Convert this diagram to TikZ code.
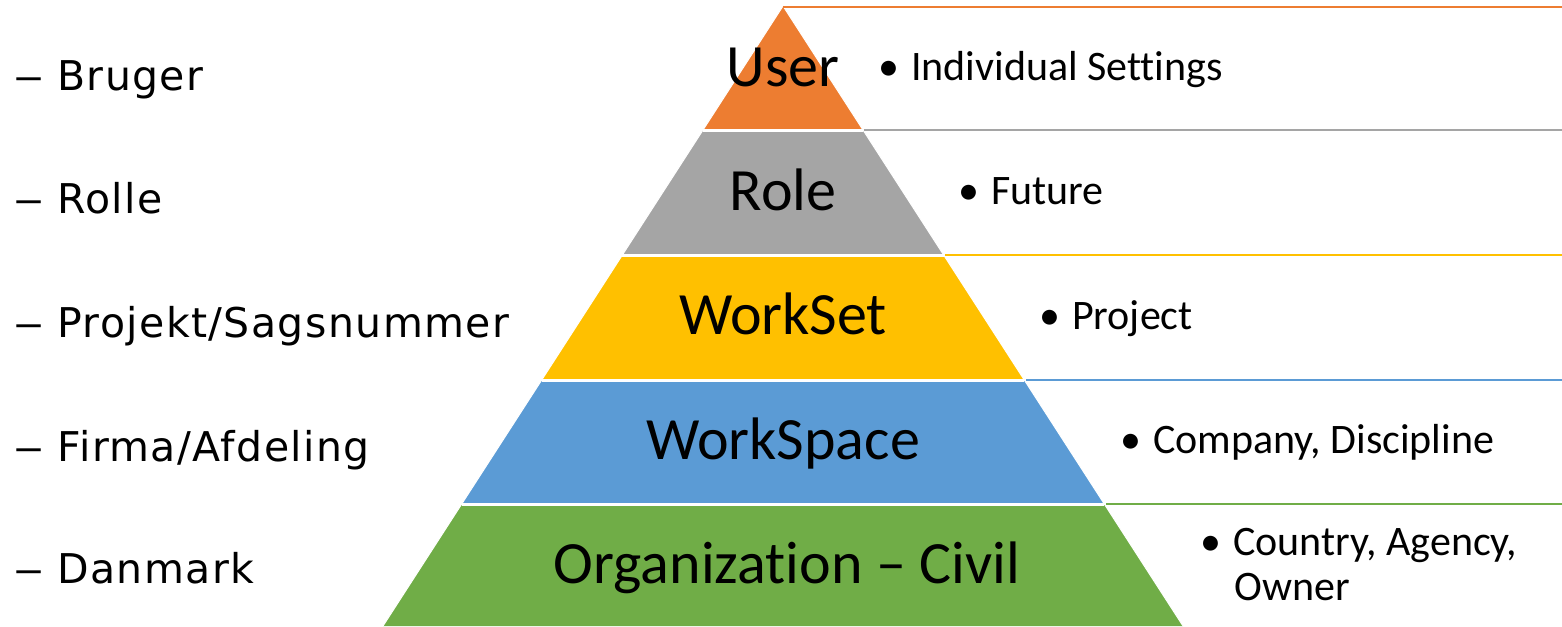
\documentclass[tikz,border=0pt]{standalone}
\usepackage{fontspec}
\usepackage{graphicx}
\setmainfont[Ligatures={NoCommon}]{Carlito}
\newfontfamily\lefffont[LetterSpace=3.5]{DejaVu Sans}
\newfontfamily\dashfont{DejaVu Sans}
\definecolor{cOrange}{HTML}{ED7D31}
\definecolor{cGray}{HTML}{A5A5A5}
\definecolor{cYellow}{HTML}{FFC000}
\definecolor{cBlue}{HTML}{5B9BD5}
\definecolor{cGreen}{HTML}{70AD47}
\newcommand{\ldash}{\makebox[42pt][l]{\dashfont\scalebox{0.66}[1]{—}}}
\tikzset{
  rline/.style={line width=2pt},
  plabel/.style={anchor=base, inner sep=0pt, font=\fontsize{60}{62}\selectfont},
  blabel/.style={anchor=base west, inner sep=0pt, align=left, font=\fontsize{42}{46}\selectfont},
  llabel/.style={anchor=base west, inner sep=0pt, font=\lefffont\fontsize{41}{44}\selectfont},
}
\begin{document}
\begin{tikzpicture}[x=1pt,y=-1pt]
\useasboundingbox (0,0) rectangle (1562,626);
% levels
\fill[cGreen] (461.8,504) -- (1104.2,504) -- (1183,626) -- (383,626) -- cycle;
\fill[cBlue] (541.8,380) -- (1024.2,380) -- (1104.2,504) -- (461.8,504) -- cycle;
\fill[cYellow] (622.4,255) -- (943.6,255) -- (1024.2,380) -- (541.8,380) -- cycle;
\fill[cGray] (703,130) -- (863,130) -- (943.6,255) -- (622.4,255) -- cycle;
\fill[cOrange] (783,6) -- (863,130) -- (703,130) -- cycle;
% white separators and edges
\draw[white, line width=3pt] (703,130) -- (863,130) (622.4,255) -- (943.6,255) (541.8,380) -- (1024.2,380) (461.8,504) -- (1104.2,504);
\draw[white, line width=1pt] (383,626) -- (783,6) -- (1183,626);
% right lines
\coordinate (o1) at (783,7);   \coordinate (o2) at (1562,7);
\coordinate (g1) at (864,130); \coordinate (g2) at (1562,130);
\coordinate (y1) at (945,255); \coordinate (y2) at (1562,255);
\coordinate (b1) at (1026,380);\coordinate (b2) at (1562,380);
\coordinate (n1) at (1106,504);\coordinate (n2) at (1562,504);
\draw[rline, cOrange] (o1) -- (o2);
\draw[rline, cGray] (g1) -- (g2);
\draw[rline, cYellow] (y1) -- (y2);
\draw[rline, cBlue] (b1) -- (b2);
\draw[rline, cGreen] (n1) -- (n2);
% pyramid labels
\node[plabel] (pu) at (783,86) {User};
\node[plabel] (pr) at (783,210) {Role};
\node[plabel] (pws) at (783,334) {WorkSet};
\node[plabel] (pwp) at (783,459) {WorkSpace};
\node[plabel] (po) at (787,583) {Organization – Civil};
% bullets
\node[blabel] (bu) at (878,80) {•\hspace{12pt}Individual Settings};
\node[blabel] (br) at (958,204) {•\hspace{12pt}Future};
\node[blabel] (bws) at (1039,329) {•\hspace{12pt}Project};
\node[blabel] (bwp) at (1120,453) {•\hspace{12pt}Company, Discipline};
\node[blabel] (bo) at (1200,555) {•\hspace{12pt}Country, Agency,};
\node[blabel] (bo2) at (1234,600) {Owner};
% left labels
\node[llabel] (lu) at (15,90) {\ldash Bruger};
\node[llabel] (lr) at (15,213) {\ldash Rolle};
\node[llabel] (lws) at (15,337) {\ldash Projekt/Sagsnummer};
\node[llabel] (lwp) at (15,461) {\ldash Firma/Afdeling};
\node[llabel] (lo) at (15,583) {\ldash Danmark};
\end{tikzpicture}
\end{document}
